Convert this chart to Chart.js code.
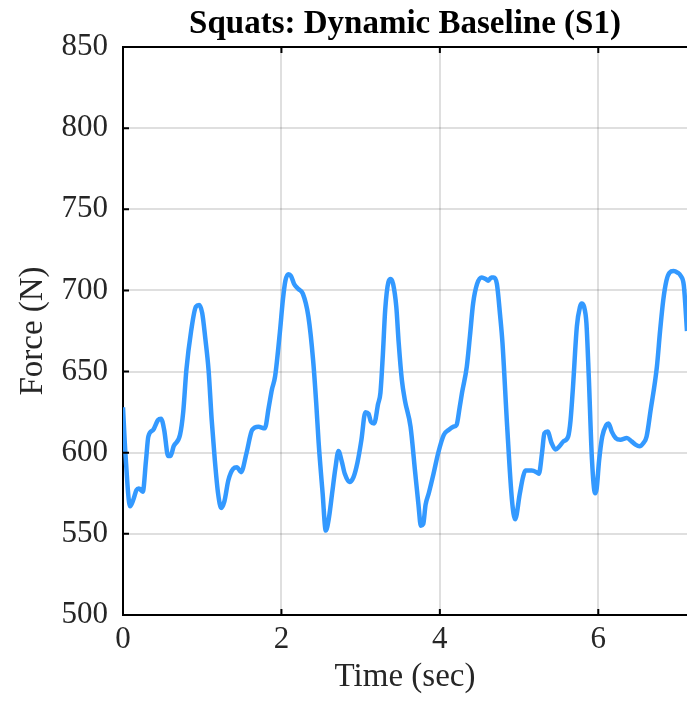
<!DOCTYPE html>
<html>
<head>
<meta charset="utf-8">
<script src="https://cdn.jsdelivr.net/npm/chart.js@4.4.0/dist/chart.umd.min.js"></script>
<style>
  html, body { margin: 0; padding: 0; background: #fff; }
</style>
</head>
<body>
<canvas id="forceChart" width="687" height="705"></canvas>
<script>
// time (sec) and ground reaction force (N)
const times = [
  0.00, 0.03, 0.09, 0.13, 0.17, 0.20, 0.25, 0.29, 0.32, 0.38, 0.44, 0.48, 0.52, 0.57, 0.60, 0.64,
  0.72, 0.76, 0.80, 0.86, 0.92, 0.96, 1.00, 1.04, 1.08, 1.12, 1.16, 1.20, 1.24, 1.28, 1.33, 1.39,
  1.44, 1.49, 1.56, 1.63, 1.71, 1.79, 1.84, 1.88, 1.92, 1.98, 2.02, 2.05, 2.09, 2.12, 2.16, 2.21,
  2.27, 2.34, 2.40, 2.44, 2.47, 2.52, 2.56, 2.60, 2.64, 2.68, 2.72, 2.76, 2.80, 2.86, 2.91, 2.96,
  3.01, 3.06, 3.10, 3.13, 3.17, 3.22, 3.25, 3.28, 3.31, 3.35, 3.38, 3.41, 3.45, 3.48, 3.52, 3.56,
  3.63, 3.69, 3.73, 3.76, 3.79, 3.82, 3.86, 3.92, 3.98, 4.05, 4.11, 4.17, 4.21, 4.25, 4.28, 4.34,
  4.38, 4.42, 4.47, 4.53, 4.58, 4.61, 4.65, 4.68, 4.72, 4.76, 4.79, 4.85, 4.91, 4.95, 5.01, 5.05,
  5.08, 5.16, 5.22, 5.25, 5.29, 5.32, 5.36, 5.41, 5.46, 5.51, 5.56, 5.62, 5.65, 5.68, 5.73, 5.77,
  5.79, 5.82, 5.85, 5.88, 5.92, 5.96, 5.98, 6.01, 6.05, 6.10, 6.13, 6.17, 6.22, 6.28, 6.36, 6.42,
  6.47, 6.52, 6.57, 6.61, 6.66, 6.74, 6.78, 6.82, 6.86, 6.90, 6.95, 7.00, 7.04, 7.08, 7.12
];
const force = [
  628, 600, 567, 571, 577, 578, 576, 595, 610, 614, 620, 621, 614, 598, 598, 604,
  611, 625, 651, 675, 690, 691, 686, 670, 651, 620, 595, 575, 566, 570, 583, 590,
  591, 588, 600, 614, 616, 615, 628, 639, 647, 674, 695, 706, 710, 709, 704, 701,
  698, 684, 657, 630, 606, 575, 552, 560, 575, 590, 601, 595, 587, 582, 585, 594,
  608, 625, 624, 619, 618, 630, 637, 660, 688, 705, 707, 704, 690, 668, 645, 632,
  616, 587, 568, 555, 556, 568, 575, 587, 600, 611, 614, 616, 617, 628, 637, 653,
  672, 692, 704, 708, 707, 706, 708, 708, 704, 685, 668, 616, 571, 559, 575, 585,
  589, 589, 588, 587, 600, 612, 613, 606, 602, 604, 607, 610, 620, 640, 678, 690,
  692, 690, 680, 647, 596, 575, 578, 595, 610, 617, 618, 613, 609, 608, 609, 607,
  605, 604, 606, 610, 626, 653, 675, 694, 706, 711, 712, 711, 709, 703, 675
];
const xTicks = [0, 2, 4, 6];

const serif = "'Liberation Serif', 'Times New Roman', serif";

// MATLAB-like box: top edge plus inward tick marks
const boxTicks = {
    id: 'boxTicks',
    afterDraw(chart) {
        const { ctx, chartArea: a, scales } = chart;
        ctx.save();
        ctx.strokeStyle = '#000';
        ctx.lineWidth = 2;
        ctx.beginPath();
        ctx.moveTo(a.left, a.top);
        ctx.lineTo(a.right, a.top);
        scales.x.ticks.forEach(t => {
            const px = scales.x.getPixelForValue(t.value);
            ctx.moveTo(px, a.bottom); ctx.lineTo(px, a.bottom - 6);
            ctx.moveTo(px, a.top); ctx.lineTo(px, a.top + 6);
        });
        scales.y.ticks.forEach(t => {
            const py = scales.y.getPixelForValue(t.value);
            ctx.moveTo(a.left, py); ctx.lineTo(a.left + 6, py);
        });
        ctx.stroke();
        ctx.restore();
    }
};

const ctx = document.getElementById('forceChart').getContext('2d');
new Chart(ctx, {
    type: 'line',
    data: {
        datasets: [{
            data: times.map((t, i) => ({ x: t, y: force[i] })),
            borderColor: '#3399ff',
            borderWidth: 4.5,
            pointRadius: 0,
            cubicInterpolationMode: 'monotone',
            fill: false
        }]
    },
    options: {
        responsive: false,
        animation: false,
        layout: { padding: 0 },
        plugins: {
            legend: { display: false },
            tooltip: { enabled: false },
            title: {
                display: true,
                fullSize: false,
                text: 'Squats: Dynamic Baseline (S1)',
                color: '#000',
                font: { family: serif, size: 33, weight: 'bold' },
                padding: { top: 5, bottom: 2.4 }
            }
        },
        scales: {
            x: {
                type: 'linear',
                min: 0,
                max: 7.12,
                afterBuildTicks: scale => { scale.ticks = xTicks.map(v => ({ value: v })); },
                afterFit: scale => { scale.height = 90; },
                grid: { color: 'rgba(38,38,38,0.15)', lineWidth: 2, drawTicks: false },
                border: { color: '#000', width: 2 },
                ticks: {
                    color: '#262626',
                    padding: 6,
                    maxRotation: 0,
                    font: { family: serif, size: 31 }
                },
                title: {
                    display: true,
                    text: 'Time (sec)',
                    color: '#262626',
                    font: { family: serif, size: 33 },
                    padding: { top: 0, bottom: 8 }
                }
            },
            y: {
                min: 500,
                max: 850,
                afterFit: scale => { scale.width = 123; },
                grid: { color: 'rgba(38,38,38,0.15)', lineWidth: 2, drawTicks: false },
                border: { color: '#000', width: 2 },
                ticks: {
                    stepSize: 50,
                    color: '#262626',
                    padding: 15,
                    font: { family: serif, size: 31 }
                },
                title: {
                    display: true,
                    text: 'Force (N)',
                    color: '#262626',
                    font: { family: serif, size: 33 },
                    padding: { top: 14, bottom: 0 }
                }
            }
        }
    },
    plugins: [boxTicks]
});
</script>
</body>
</html>
